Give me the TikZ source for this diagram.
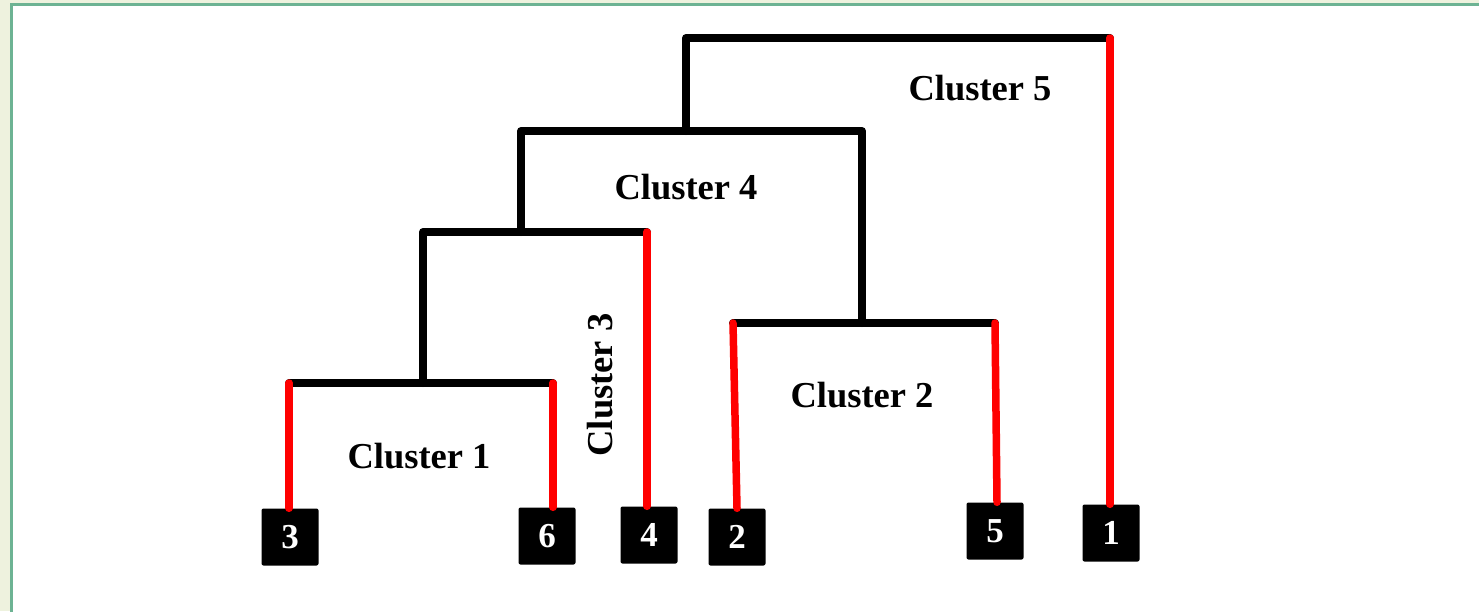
\documentclass[tikz,border=0pt]{standalone}
\usepackage{fontspec}
\setmainfont{Liberation Serif}
\definecolor{framegreen}{HTML}{6DB393}
\definecolor{outerbg}{HTML}{EEF2DE}
\definecolor{linkred}{HTML}{FF0000}
\begin{document}
\begin{tikzpicture}[x=1pt,y=-1pt,
  leaf/.style={fill=black,text=white,rounded corners=2pt,minimum width=57pt,minimum height=57pt,inner sep=0pt,font=\bfseries\fontsize{35}{38}\selectfont},
  clabel/.style={font=\bfseries\fontsize{36.5}{40}\selectfont,inner sep=0pt},
  blackline/.style={line width=8pt,black,line join=round,line cap=round},
  redline/.style={line width=7.5pt,linkred,line cap=round}]
\useasboundingbox (0,0) rectangle (1479,611);
\fill[outerbg] (0,0) rectangle (1479,611);
\fill[white] (12,5) rectangle (1490,620);
\draw[framegreen,line width=3pt] (1490,4.5) -- (11.5,4.5) -- (11.5,620);
% leaves
\node[leaf] (n3) at (290,537) {3};
\node[leaf] (n6) at (547,536) {6};
\node[leaf] (n4) at (649,535) {4};
\node[leaf] (n2) at (737,537) {2};
\node[leaf] (n5) at (995,531) {5};
\node[leaf] (n1) at (1111,533) {1};
% junctions
\coordinate (c1L) at (289,383);
\coordinate (c1R) at (553,383);
\coordinate (c1M) at (423,383);
\coordinate (c3L) at (423,232);
\coordinate (c3R) at (647,232);
\coordinate (c3M) at (521,232);
\coordinate (c4L) at (521,131);
\coordinate (c4R) at (862,131);
\coordinate (c4M) at (686,131);
\coordinate (c2L) at (733,323);
\coordinate (c2R) at (995,323);
\coordinate (c2M) at (862,323);
\coordinate (c5L) at (686,38);
\coordinate (c5R) at (1110,38);
% black links
\draw[blackline] (c1L) -- (c1R);
\draw[blackline] (c1M) -- (c3L) -- (c3R);
\draw[blackline] (c3M) -- (c4L) -- (c4R) -- (c2M);
\draw[blackline] (c2L) -- (c2R);
\draw[blackline] (c4M) -- (c5L) -- (c5R);
% red links
\draw[redline] (c1L) -- (c1L |- n3.north);
\draw[redline] (c1R) -- (c1R |- n6.north);
\draw[redline] (c3R) -- (c3R |- n4.north);
\draw[redline] (c2L) -- (n2.north);
\draw[redline] (c2R) -- ([xshift=2pt]n5.north);
\draw[redline] (c5R) -- (c5R |- n1.north);
% labels
\node[clabel] (l5) at (980,88) {Cluster 5};
\node[clabel] (l4) at (686,187) {Cluster 4};
\node[clabel,rotate=90] (l3) at (600,385) {Cluster 3};
\node[clabel] (l2) at (862,395) {Cluster 2};
\node[clabel] (l1) at (419,456) {Cluster 1};
\end{tikzpicture}
\end{document}
